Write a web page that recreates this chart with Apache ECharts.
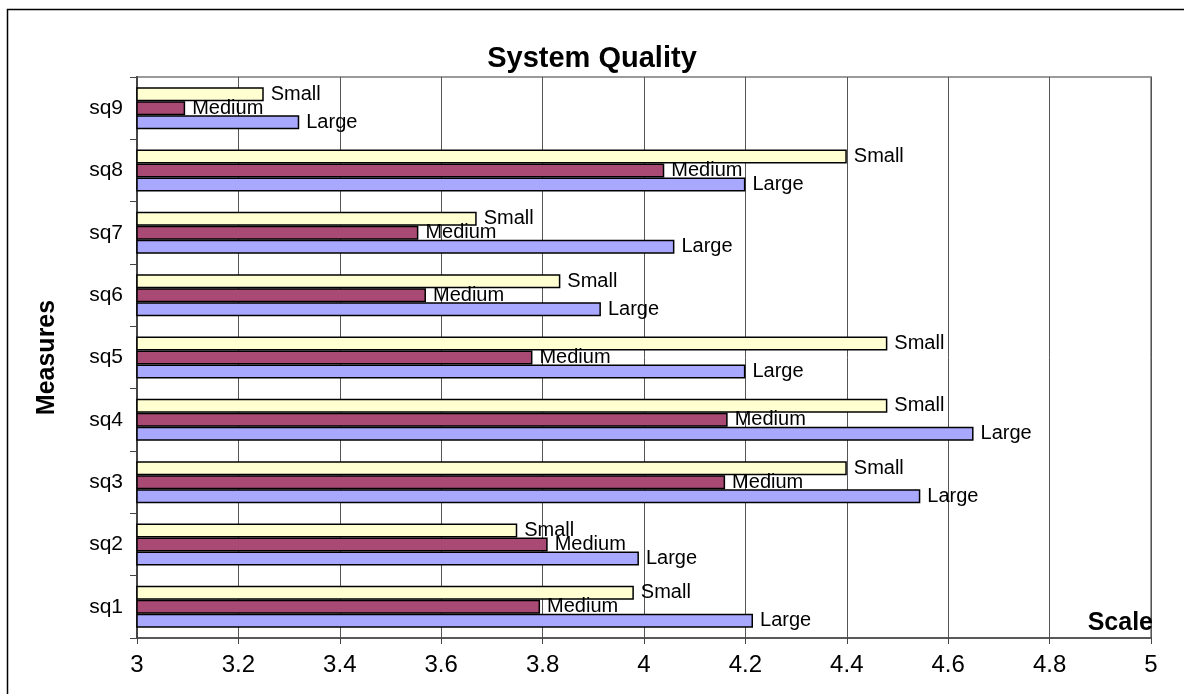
<!DOCTYPE html>
<html>
<head>
<meta charset="utf-8">
<title>System Quality</title>
<script src="https://cdn.jsdelivr.net/npm/echarts@6/dist/echarts.min.js"></script>
<style>
  html, body { margin: 0; padding: 0; background: #ffffff; }
  #chart { width: 1184px; height: 694px; }
</style>
</head>
<body>
<div id="chart"></div>
<script>
// Measures, bottom to top
const categories = ['sq1', 'sq2', 'sq3', 'sq4', 'sq5', 'sq6', 'sq7', 'sq8', 'sq9'];

// Mean scale score per organisation size
const smallValues  = [3.98, 3.75, 4.40, 4.48, 4.48, 3.835, 3.67, 4.40, 3.25];
const mediumValues = [3.795, 3.81, 4.16, 4.165, 3.78, 3.57, 3.555, 4.04, 3.095];
const largeValues  = [4.215, 3.99, 4.545, 4.65, 4.20, 3.915, 4.06, 4.20, 3.32];

const xTicks = { min: 3, max: 5, interval: 0.2 };

const FONT = '"Liberation Sans", Arial, sans-serif';

function barSeries(name, values, color) {
  return {
    name: name,
    type: 'bar',
    data: values,
    barWidth: 14,
    barGap: '0%',
    itemStyle: { color: color, borderColor: '#000000', borderWidth: 1.5 },
    label: {
      show: true,
      position: 'right',
      distance: 7,
      formatter: name,
      color: '#000000',
      fontFamily: FONT,
      fontSize: 20
    }
  };
}

const chart = echarts.init(document.getElementById('chart'));
chart.setOption({
  backgroundColor: '#ffffff',
  animation: false,
  title: {
    text: 'System Quality',
    left: 'center',
    top: 39,
    textStyle: { fontFamily: FONT, fontSize: 29, fontWeight: 'bold', color: '#000000' }
  },
  graphic: [
    {
      // outer chart frame
      type: 'rect',
      shape: { x: 7.5, y: 9.5, width: 1200, height: 700 },
      style: { fill: 'none', stroke: '#000000', lineWidth: 1.5 },
      silent: true,
      z: -1
    }
  ],
  grid: {
    left: 137,
    right: 33,
    top: 77,
    bottom: 56,
    show: true,
    borderColor: '#9a9a9a',
    borderWidth: 2,
    backgroundColor: 'transparent'
  },
  xAxis: {
    type: 'value',
    min: xTicks.min,
    max: xTicks.max,
    interval: xTicks.interval,
    name: 'Scale',
    nameLocation: 'end',
    nameGap: 2,
    nameTextStyle: {
      fontFamily: FONT, fontSize: 25, fontWeight: 'bold', color: '#000000',
      align: 'right', verticalAlign: 'bottom', padding: [0, 0, 2, 0]
    },
    axisLine: { show: true, lineStyle: { color: '#444444', width: 1.5 } },
    axisTick: { show: true, length: 6, lineStyle: { color: '#444444' } },
    axisLabel: {
      fontFamily: FONT, fontSize: 24, color: '#000000', margin: 15,
      formatter: v => String(parseFloat(v.toFixed(1)))
    },
    splitLine: { show: true, lineStyle: { color: '#555555', width: 1 } }
  },
  yAxis: {
    type: 'category',
    data: categories,
    name: 'Measures',
    nameLocation: 'middle',
    nameRotate: 90,
    nameGap: 77,
    nameTextStyle: { fontFamily: FONT, fontSize: 25, fontWeight: 'bold', color: '#000000' },
    axisLine: { show: true, lineStyle: { color: '#444444', width: 2 } },
    axisTick: { show: true, length: 7, lineStyle: { color: '#444444' } },
    axisLabel: { fontFamily: FONT, fontSize: 21, color: '#000000', margin: 14 },
    splitLine: { show: false }
  },
  series: [
    barSeries('Small', smallValues, '#ffffd2'),
    barSeries('Medium', mediumValues, '#a84a73'),
    barSeries('Large', largeValues, '#a8a8ff')
  ]
});
</script>
</body>
</html>
